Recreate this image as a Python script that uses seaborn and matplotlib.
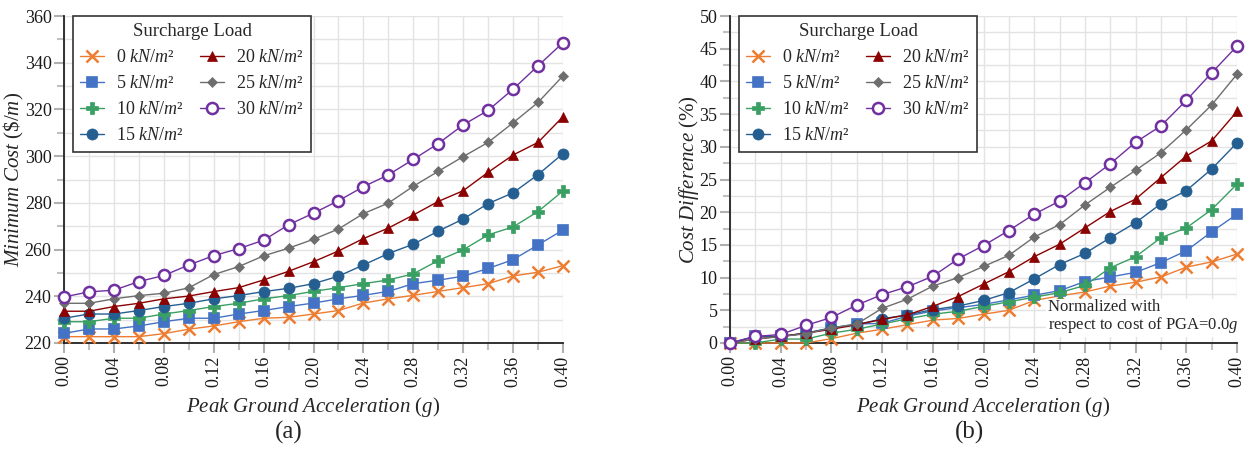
import numpy as np
import pandas as pd
import seaborn as sns
import matplotlib
matplotlib.use("Agg")
import matplotlib.pyplot as plt
from matplotlib.ticker import MultipleLocator

# ---------------- data ----------------
pga = [0.00, 0.02, 0.04, 0.06, 0.08, 0.10, 0.12, 0.14, 0.16, 0.18, 0.20,
       0.22, 0.24, 0.26, 0.28, 0.30, 0.32, 0.34, 0.36, 0.38, 0.40]
loads = ["0", "5", "10", "15", "20", "25", "30"]

cost_0 = [222.7, 222.7, 222.7, 222.7, 224.0, 225.9, 227.3, 229.1, 230.6, 231.0, 232.4,
          233.9, 237.1, 238.9, 240.4, 242.1, 243.7, 245.4, 248.7, 250.3, 253.1]
cost_5 = [224.1, 226.0, 226.0, 227.3, 229.1, 230.6, 230.6, 232.4, 233.9, 235.6, 237.1,
          238.9, 240.4, 242.1, 245.4, 246.9, 248.6, 251.9, 255.7, 262.0, 268.4]
cost_10 = [229.1, 229.1, 230.6, 230.6, 232.4, 233.9, 235.6, 237.0, 238.9, 240.3, 242.1,
           243.7, 245.4, 247.0, 249.6, 255.3, 259.9, 266.3, 269.7, 276.3, 285.1]
cost_15 = [230.6, 232.4, 232.4, 233.9, 235.6, 237.0, 238.9, 240.3, 242.0, 243.4, 245.4,
           248.6, 253.4, 258.3, 262.3, 267.9, 273.1, 279.7, 284.3, 292.1, 301.1]
cost_20 = [233.6, 233.6, 235.6, 237.0, 238.9, 240.1, 242.0, 243.7, 247.0, 250.7, 254.8,
           259.4, 264.7, 269.2, 274.8, 280.6, 285.2, 293.1, 300.5, 305.9, 316.9]
cost_25 = [237.0, 237.0, 238.9, 240.3, 241.3, 243.6, 249.3, 252.7, 257.3, 260.6, 264.4,
           268.8, 275.4, 279.9, 287.1, 293.5, 299.8, 305.9, 314.3, 323.0, 334.4]
cost_30 = [239.7, 241.9, 242.6, 246.3, 248.9, 253.4, 257.4, 260.4, 264.0, 270.6, 275.6,
           280.9, 286.9, 292.0, 298.6, 305.4, 313.4, 319.6, 328.7, 338.7, 348.6]

diff_0 = [0.0, 0.0, 0.0, 0.0, 0.66, 1.5, 2.1, 2.8, 3.5, 3.75, 4.4,
          5.0, 6.5, 7.2, 7.8, 8.7, 9.3, 10.1, 11.6, 12.4, 13.6]
diff_5 = [0.0, 1.0, 1.0, 1.5, 2.3, 2.9, 3.0, 4.1, 4.9, 5.4, 5.9,
          6.6, 7.3, 8.0, 9.4, 10.1, 10.8, 12.3, 14.1, 17.0, 19.7]
diff_10 = [0.0, 0.0, 0.6, 0.6, 1.5, 2.1, 2.9, 3.7, 4.4, 4.85, 5.6,
           6.3, 7.0, 7.7, 8.8, 11.5, 13.2, 16.1, 17.6, 20.4, 24.3]
diff_15 = [0.0, 1.0, 1.0, 1.5, 2.3, 2.8, 3.7, 4.3, 5.1, 5.65, 6.5,
           7.7, 9.8, 12.0, 13.7, 16.1, 18.4, 21.3, 23.3, 26.6, 30.6]
diff_20 = [0.0, 0.6, 1.0, 1.5, 2.1, 2.8, 3.6, 4.3, 5.6, 7.1, 9.0,
           10.9, 13.2, 15.1, 17.6, 20.1, 22.0, 25.3, 28.6, 30.9, 35.4]
diff_25 = [0.0, 0.6, 1.0, 1.4, 2.3, 2.9, 5.3, 6.7, 8.7, 10.0, 11.7,
           13.4, 16.2, 18.1, 21.1, 23.8, 26.4, 29.1, 32.6, 36.4, 41.1]
diff_30 = [0.0, 1.0, 1.3, 2.7, 3.9, 5.8, 7.4, 8.6, 10.2, 12.85, 14.9,
           17.2, 19.7, 21.7, 24.5, 27.4, 30.7, 33.2, 37.1, 41.3, 45.4]

costs = [cost_0, cost_5, cost_10, cost_15, cost_20, cost_25, cost_30]
diffs = [diff_0, diff_5, diff_10, diff_15, diff_20, diff_25, diff_30]

# ---------------- styles ----------------
colors = ["#ED7D31", "#4472C4", "#3A9F63", "#255E91", "#8B0000", "#6E6E6E", "#7030A0"]
markers = ["x", "s", "P", "o", "^", "D", "o"]
msizes = [8, 6.5, 8, 8, 7.5, 5, 8]
faces = ["#ED7D31", "#4472C4", "#3A9F63", "#255E91", "#8B0000", "#6E6E6E", "white"]
mews = [1.8, 1.2, 0.5, 0.5, 0.5, 0.5, 1.8]

sns.set_theme(style="whitegrid")
plt.rcParams["font.family"] = ["Liberation Serif", "DejaVu Serif"]
plt.rcParams["mathtext.fontset"] = "custom"
plt.rcParams["mathtext.rm"] = "Liberation Serif"
plt.rcParams["mathtext.it"] = "Liberation Serif:italic"
plt.rcParams["mathtext.bf"] = "Liberation Serif:bold"

fig = plt.figure(figsize=(12.5, 4.5), dpi=100)
ax1 = fig.add_axes([0.0512, 0.2378, 0.3992, 0.7266])
ax2 = fig.add_axes([0.584, 0.2378, 0.4056, 0.7266])

def draw(ax, series, ylabel, ylim, ymaj, ymin):
    for i, (ld, vals) in enumerate(zip(loads, series)):
        df = pd.DataFrame({"PGA": pga, "val": vals})
        sns.lineplot(data=df, x="PGA", y="val", ax=ax, color=colors[i], lw=1.0,
                     marker=markers[i], markersize=msizes[i], markerfacecolor=faces[i],
                     markeredgecolor=colors[i], markeredgewidth=mews[i],
                     label=ld + " $kN/m$\u00b2", zorder=3 + i, clip_on=False)
        if i == 1:
            ax.scatter(pga, vals, s=3, marker="s", color="white", zorder=3.5,
                       linewidths=0, clip_on=False)
    ax.set_xlim(0, 0.40)
    ax.set_ylim(*ylim)
    ax.xaxis.set_major_locator(MultipleLocator(0.04))
    ax.xaxis.set_minor_locator(MultipleLocator(0.02))
    ax.yaxis.set_major_locator(MultipleLocator(ymaj))
    ax.yaxis.set_minor_locator(MultipleLocator(ymin))
    ax.set_xticks(np.arange(0, 0.401, 0.04))
    ax.set_xticklabels([f"{v:.2f}" for v in np.arange(0, 0.401, 0.04)], rotation=90)
    ax.grid(which="major", color="#e3e3e3", lw=1.0)
    ax.grid(which="minor", color="#e3e3e3", lw=1.0)
    ax.tick_params(which="major", axis="both", length=7, width=1.5, color="#b0b0b0",
                   labelsize=13, direction="out", left=True, bottom=True, pad=2,
                   labelcolor="#1a1a1a")
    ax.tick_params(which="minor", axis="both", length=5, width=1.5, color="#c0c0c0",
                   left=True, bottom=True)
    for s in ["top", "right"]:
        ax.spines[s].set_visible(False)
    for s in ["left", "bottom"]:
        ax.spines[s].set_color("#222222")
        ax.spines[s].set_linewidth(1.3)
    ax.set_xlabel(r"$Peak\ Ground\ Acceleration$ ($g$)", fontsize=15, labelpad=6)
    ax.set_ylabel(ylabel, fontsize=15, labelpad=4)
    leg = ax.legend(ncol=2, loc="upper left", bbox_to_anchor=(0.018, 1.0),
                    borderaxespad=0.0,
                    title="Surcharge Load", fontsize=13, title_fontsize=13.5,
                    frameon=True, fancybox=False, edgecolor="#333333",
                    framealpha=1, borderpad=0.4, handlelength=1.3,
                    columnspacing=0.9, labelspacing=0.5, handletextpad=0.7)
    leg.get_frame().set_linewidth(1.2)
    leg.set_zorder(20)

draw(ax1, costs, r"$Minimum\ Cost$ (\$/$m$)", (220, 360), 20, 10)
draw(ax2, diffs, r"$Cost\ Difference$ (%)", (0, 50), 5, 2.5)
ax1.yaxis.set_label_coords(-0.077, 0.5)
ax2.yaxis.set_label_coords(-0.058, 0.5)

ax2.text(0.627, 0.025, "Normalized with\nrespect to cost of PGA=0.0$g$",
         transform=ax2.transAxes, fontsize=12, ha="left", va="bottom",
         linespacing=1.0, zorder=15,
         bbox=dict(facecolor="white", edgecolor="none", pad=1.5))

fig.text(0.231, 0.04, "(a)", fontsize=18, ha="center", va="center")
fig.text(0.776, 0.04, "(b)", fontsize=18, ha="center", va="center")

fig.savefig("out.png", dpi=100, facecolor="white")
